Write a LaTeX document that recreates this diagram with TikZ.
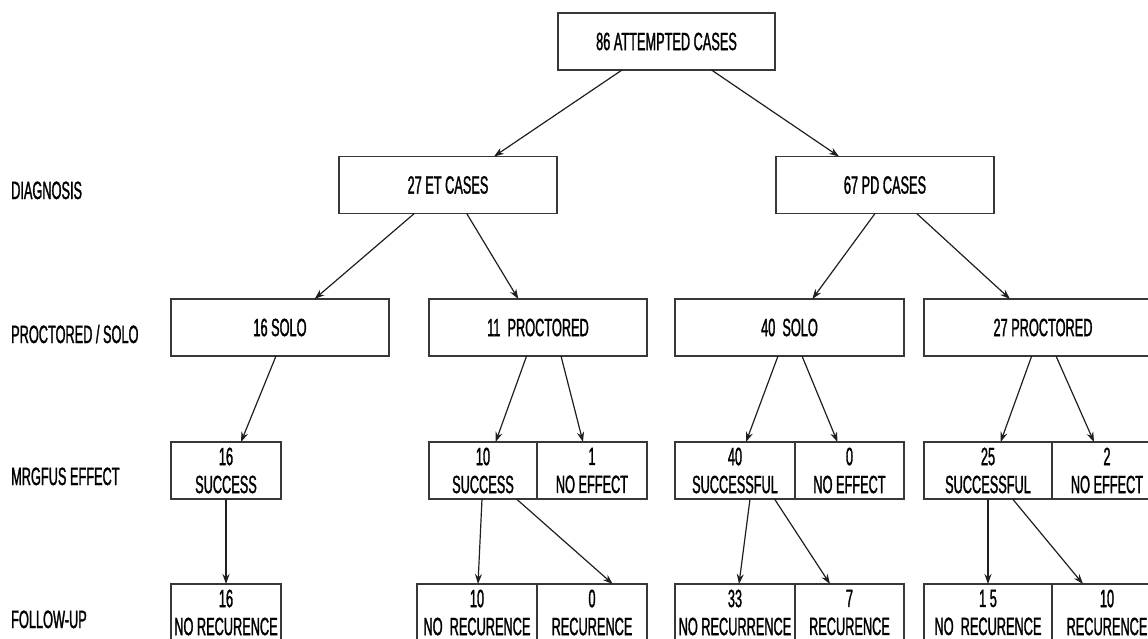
\documentclass[tikz,border=0pt]{standalone}
\usepackage{fontspec}
\setmainfont{Liberation Sans}[FakeStretch=0.51,FakeBold=1.2]
\usetikzlibrary{arrows.meta,positioning}

\tikzset{
  box/.style={draw=black!78, line width=1.5pt, minimum height=57pt, inner sep=0pt,
    outer sep=0pt, align=center, font=\fontsize{25}{28}\selectfont},
  lbl/.style={anchor=base west, inner sep=0pt, font=\fontsize{25}{28}\selectfont},
  link/.style={->, line width=1.2pt, black!88},
}

\begin{document}
\begin{tikzpicture}[x=1pt, y=-1pt, >={Stealth[length=10pt,width=7pt]}]
  \useasboundingbox (0,0) rectangle (1148,638);
  \clip (0,0) rectangle (1148,638);

  % Row labels
  \node[lbl] (ldiag) at (11,199) {DIAGNOSIS};
  \node[lbl] (lsolo) at (11,343) {PROCTORED / SOLO};
  \node[lbl] (leff)  at (11,485) {MRGFUS EFFECT};
  \node[lbl] (lfup)  at (11,628) {FOLLOW-UP};

  % All cases
  \node[box, minimum width=217] (total) at (666.5,41.5) {86 ATTEMPTED CASES};

  % Diagnosis
  \node[box, minimum width=218] (et) at (448,185) {27 ET CASES};
  \node[box, minimum width=218] (pd) at (885,185) {67 PD CASES};

  % Proctored / solo
  \node[box, minimum width=218] (etsolo) at (280,327.5) {16 SOLO};
  \node[box, minimum width=218] (etproc) at (538,327.5) {11~~PROCTORED};
  \node[box, minimum width=229] (pdsolo) at (789.5,327.5) {40~~SOLO};
  \node[box, minimum width=238] (pdproc) at (1043,327.5) {27 PROCTORED};

  % MRgFUS effect
  \node[box, minimum width=110] (etsoloyes) at (226,470.5) {16\\SUCCESS};
  \node[box, minimum width=108] (etprocyes) at (483,470.5) {10\\SUCCESS};
  \node[box, minimum width=110, right=0pt of etprocyes] (etprocno) {1\\NO EFFECT};
  \node[box, minimum width=120] (pdsoloyes) at (735,470.5) {40\\SUCCESSFUL};
  \node[box, minimum width=109, right=0pt of pdsoloyes] (pdsolono) {0\\NO EFFECT};
  \node[box, minimum width=128] (pdprocyes) at (988,470.5) {25\\SUCCESSFUL};
  \node[box, minimum width=110, right=0pt of pdprocyes] (pdprocno) {2\\NO EFFECT};

  % Follow-up
  \node[box, minimum width=110] (etsolonorec) at (226,612.5) {16\\NO RECURENCE};
  \node[box, minimum width=120] (etprocnorec) at (477,612.5) {10\\NO~~RECURENCE};
  \node[box, minimum width=110, right=0pt of etprocnorec] (etprocrec) {0\\RECURENCE};
  \node[box, minimum width=120] (pdsolonorec) at (735,612.5) {33\\NO RECURRENCE};
  \node[box, minimum width=109, right=0pt of pdsolonorec] (pdsolorec) {7\\RECURENCE};
  \node[box, minimum width=128] (pdprocnorec) at (988,612.5) {1 5\\NO~~RECURENCE};
  \node[box, minimum width=110, right=0pt of pdprocnorec] (pdprocrec) {10\\RECURENCE};

  % Arrows
  \draw[link] ([xshift=-44.5]total.south) -- ([xshift=46]et.north);
  \draw[link] ([xshift=45]total.south) -- ([xshift=-46]pd.north);

  \draw[link] ([xshift=-33.7]et.south) -- ([xshift=34.6]etsolo.north);
  \draw[link] ([xshift=18.7]et.south) -- ([xshift=-19.7]etproc.north);
  \draw[link] ([xshift=-10]pd.south) -- ([xshift=22.8]pdsolo.north);
  \draw[link] ([xshift=31.7]pd.south) -- ([xshift=-33]pdproc.north);

  \draw[link] ([xshift=-4]etsolo.south) -- ([xshift=15]etsoloyes.north);
  \draw[link] ([xshift=-11.4]etproc.south) -- ([xshift=12.6]etprocyes.north);
  \draw[link] ([xshift=23]etproc.south) -- ([xshift=-9]etprocno.north);
  \draw[link] ([xshift=-11.5]pdsolo.south) -- ([xshift=11]pdsoloyes.north);
  \draw[link] ([xshift=12.5]pdsolo.south) -- ([xshift=-12]pdsolono.north);
  \draw[link] ([xshift=-11.3]pdproc.south) -- ([xshift=12.6]pdprocyes.north);
  \draw[link] ([xshift=13]pdproc.south) -- ([xshift=-13]pdprocno.north);

  \draw[link] (etsoloyes.south) -- (etsolonorec.north);
  \draw[link] ([xshift=-1]etprocyes.south) -- ([xshift=1]etprocnorec.north);
  \draw[link] ([xshift=33.5]etprocyes.south) -- ([xshift=20.7]etprocrec.north);
  \draw[link] ([xshift=15]pdsoloyes.south) -- ([xshift=4]pdsolonorec.north);
  \draw[link] ([xshift=39.5]pdsoloyes.south) -- ([xshift=-19.5]pdsolorec.north);
  \draw[link] (pdprocyes.south) -- (pdprocnorec.north);
  \draw[link] ([xshift=24.6]pdprocyes.south) -- ([xshift=-24]pdprocrec.north);
\end{tikzpicture}
\end{document}
